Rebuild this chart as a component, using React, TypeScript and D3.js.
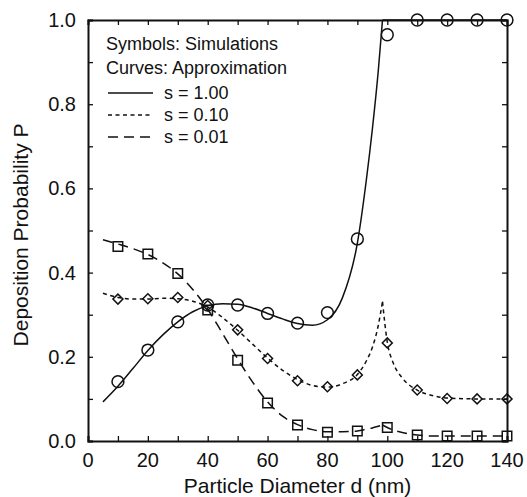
import { useEffect, useRef } from 'react';
import * as d3 from 'd3';

// simulation points (symbols)
const simD = [10, 20, 30, 40, 50, 60, 70, 80, 90, 100, 110, 120, 130, 140];
const simS100 = [0.141, 0.216, 0.283, 0.323, 0.323, 0.303, 0.28, 0.305, 0.48, 0.965, 1.0, 1.0, 1.0, 1.0];
const simS010 = [0.337, 0.338, 0.341, 0.322, 0.264, 0.196, 0.143, 0.129, 0.157, 0.233, 0.121, 0.101, 0.1, 0.1];
const simS001 = [0.462, 0.444, 0.398, 0.311, 0.192, 0.09, 0.038, 0.021, 0.024, 0.032, 0.014, 0.012, 0.012, 0.012];

// approximation curves
const curveD = [5, 10, 15, 20, 25, 30, 35, 40, 45, 50, 55, 60, 65, 70, 75, 80, 85, 90, 93, 95, 97, 98.4, 100, 102, 105, 110, 115, 120, 130, 140];
const curveS100 = [0.093, 0.13, 0.172, 0.215, 0.252, 0.283, 0.307, 0.321, 0.326, 0.325, 0.316, 0.303, 0.29, 0.279, 0.275, 0.288, 0.34, 0.47, 0.62, 0.74, 0.88, 1.0, 1.0, 1.0, 1.0, 1.0, 1.0, 1.0, 1.0, 1.0];
const curveS010 = [0.351, 0.341, 0.337, 0.337, 0.339, 0.338, 0.332, 0.318, 0.293, 0.263, 0.23, 0.197, 0.168, 0.146, 0.132, 0.128, 0.136, 0.158, 0.19, 0.222, 0.275, 0.331, 0.235, 0.185, 0.15, 0.121, 0.108, 0.102, 0.1, 0.1];
const curveS001 = [0.478, 0.468, 0.457, 0.443, 0.423, 0.397, 0.36, 0.313, 0.255, 0.195, 0.14, 0.093, 0.059, 0.039, 0.027, 0.022, 0.022, 0.024, 0.028, 0.031, 0.035, 0.038, 0.032, 0.026, 0.02, 0.014, 0.012, 0.012, 0.012, 0.012];
const cuspD = 98.4;

const xTickLabels = [0, 20, 40, 60, 80, 100, 120, 140];
const yTickLabels = [0.0, 0.2, 0.4, 0.6, 0.8, 1.0];

const legendLabels = ['s = 1.00', 's = 0.10', 's = 0.01'];

const W = 527;
const H = 497;
const FONT = '"Liberation Sans", Arial, Helvetica, sans-serif';

const App = () => {
  const svgRef = useRef<SVGSVGElement | null>(null);

  useEffect(() => {
    const svg = d3.select(svgRef.current);
    svg.selectAll('*').remove();

    const left = 88, right = 507, top = 20, bottom = 441;

    const x = d3.scaleLinear().domain([0, 140]).range([left, right]);
    const y = d3.scaleLinear().domain([0, 1]).range([bottom, top]);

    const g = svg.append('g');

    // curves
    const line = d3
      .line<[number, number]>()
      .x(d => x(d[0]))
      .y(d => y(d[1]))
      .curve(d3.curveMonotoneX);

    const curves = [
      { vals: curveS100, dash: null },
      { vals: curveS010, dash: '4,3.5' },
      { vals: curveS001, dash: '10,6' },
    ];

    curves.forEach(c => {
      const pts: [number, number][] = curveD.map((d, i) => [d, c.vals[i]]);
      const leftPart = pts.filter(p => p[0] <= cuspD);
      const rightPart = pts.filter(p => p[0] >= cuspD);
      [leftPart, rightPart].forEach(part => {
        g.append('path')
          .datum(part)
          .attr('fill', 'none')
          .attr('stroke', '#111')
          .attr('stroke-width', 1.5)
          .attr('stroke-dasharray', c.dash)
          .attr('d', line);
      });
    });

    // axes frame with inward ticks
    const axisColor = '#111';
    const xMinor = d3.range(0, 141, 10);
    const yMinor = d3.range(0, 1.001, 0.1);
    const tickLen = 5;

    const axBottom = g.append('g').attr('transform', `translate(0,${bottom})`)
      .call(d3.axisBottom(x).tickValues(xMinor).tickSize(-tickLen).tickFormat(() => ''));
    const axTop = g.append('g').attr('transform', `translate(0,${top})`)
      .call(d3.axisTop(x).tickValues(xMinor).tickSize(-tickLen).tickFormat(() => ''));
    const axLeft = g.append('g').attr('transform', `translate(${left},0)`)
      .call(d3.axisLeft(y).tickValues(yMinor).tickSize(-tickLen).tickFormat(() => ''));
    const axRight = g.append('g').attr('transform', `translate(${right},0)`)
      .call(d3.axisRight(y).tickValues(yMinor).tickSize(-tickLen).tickFormat(() => ''));

    [axBottom, axTop, axLeft, axRight].forEach(a => {
      a.select('.domain').attr('stroke', axisColor).attr('stroke-width', 2);
      a.selectAll('.tick line').attr('stroke', axisColor).attr('stroke-width', 1.3);
    });

    // tick labels
    g.selectAll('.xlab')
      .data(xTickLabels)
      .enter()
      .append('text')
      .attr('x', d => x(d))
      .attr('y', 467)
      .attr('text-anchor', 'middle')
      .attr('font-family', FONT)
      .attr('font-size', 20)
      .attr('fill', '#111')
      .text(d => String(d));

    g.selectAll('.ylab')
      .data(yTickLabels)
      .enter()
      .append('text')
      .attr('x', 76)
      .attr('y', d => y(d) + 7)
      .attr('text-anchor', 'end')
      .attr('font-family', FONT)
      .attr('font-size', 20)
      .attr('fill', '#111')
      .text(d => d.toFixed(1));

    // axis titles
    g.append('text')
      .attr('x', (left + right) / 2)
      .attr('y', 493)
      .attr('text-anchor', 'middle')
      .attr('font-family', FONT)
      .attr('font-size', 21)
      .attr('fill', '#111')
      .text('Particle Diameter d (nm)');

    g.append('text')
      .attr('transform', `translate(28,${235}) rotate(-90)`)
      .attr('text-anchor', 'middle')
      .attr('font-family', FONT)
      .attr('font-size', 21)
      .attr('fill', '#111')
      .text('Deposition Probability P');

    // symbols
    const sym = (vals: number[], type: d3.SymbolType, size: number, rot: number) => {
      g.selectAll(null)
        .data(simD.map((d, i) => [d, vals[i]] as [number, number]))
        .enter()
        .append('path')
        .attr('transform', d => `translate(${x(d[0])},${y(d[1])}) rotate(${rot})`)
        .attr('d', d3.symbol().type(type).size(size)())
        .attr('fill', 'none')
        .attr('stroke', '#111')
        .attr('stroke-width', 1.5);
    };
    sym(simS001, d3.symbolSquare, 90, 0);
    sym(simS010, d3.symbolSquare, 50, 45);
    sym(simS100, d3.symbolCircle, 110, 0);

    // legend
    const lg = g.append('g');
    ['Symbols: Simulations', 'Curves: Approximation'].forEach((t, i) => {
      lg.append('text')
        .attr('x', 106)
        .attr('y', 50 + i * 24)
        .attr('font-family', FONT)
        .attr('font-size', 18)
        .attr('fill', '#111')
        .text(t);
    });
    legendLabels.forEach((t, i) => {
      const ly = 93 + i * 22;
      lg.append('line')
        .attr('x1', 108)
        .attr('x2', 153)
        .attr('y1', ly)
        .attr('y2', ly)
        .attr('stroke', '#111')
        .attr('stroke-width', 1.5)
        .attr('stroke-dasharray', curves[i].dash);
      lg.append('text')
        .attr('x', 164)
        .attr('y', ly + 6)
        .attr('font-family', FONT)
        .attr('font-size', 18)
        .attr('fill', '#111')
        .text(t);
    });
  }, []);

  return (
    <svg
      ref={svgRef}
      width={W}
      height={H}
      style={{ position: 'absolute', left: 0, top: 0, background: '#fff' }}
    />
  );
};

export default App;
